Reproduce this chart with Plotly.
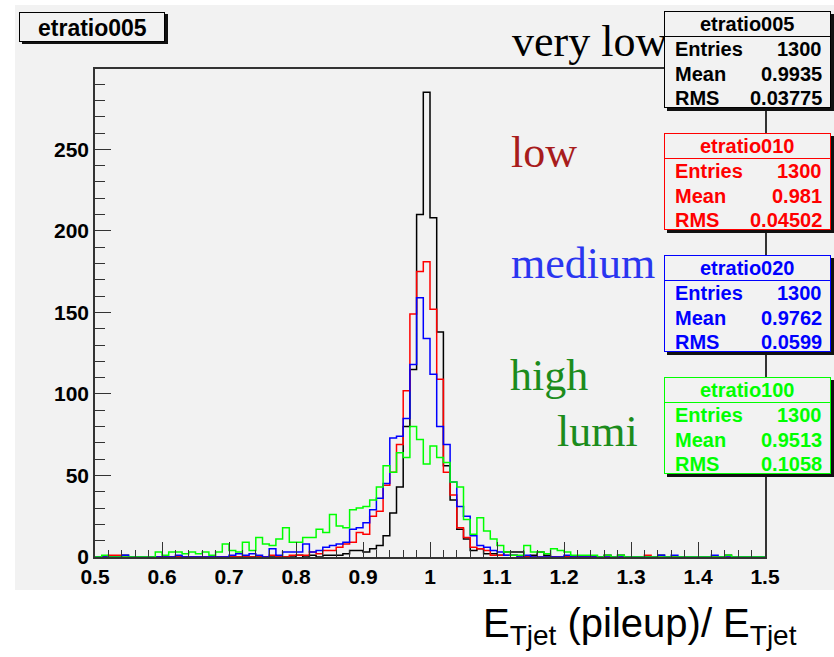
import numpy as np
import plotly.graph_objects as go

# ---------------- data ----------------
bin_low, bin_high, n_bins = 0.5, 1.5, 100

counts_005 = [
    0, 0, 0, 0, 1, 0, 0, 0, 0, 0,
    0, 0, 0, 0, 0, 0, 0, 0, 0, 0,
    0, 0, 0, 0, 0, 0, 0, 0, 0, 0,
    1, 0, 1, 0, 1, 1, 1, 2, 4, 4,
    3, 5, 7, 13, 27, 43, 80, 115, 210, 285,
    208, 138, 56, 35, 17, 11, 4, 5, 2, 2,
    1, 3, 3, 3, 0, 1, 3, 1, 0, 0,
    0, 0, 0, 0, 0, 0, 1, 0, 1, 0,
    0, 0, 0, 0, 1, 0, 0, 0, 0, 0,
    0, 0, 0, 0, 1, 0, 0, 0, 0, 0,
]
counts_010 = [
    0, 0, 1, 1, 0, 0, 0, 0, 0, 0,
    0, 0, 0, 0, 0, 0, 0, 0, 0, 0,
    0, 0, 0, 0, 0, 0, 1, 0, 0, 1,
    1, 1, 3, 2, 4, 4, 6, 8, 9, 15,
    14, 25, 28, 44, 52, 69, 102, 149, 175, 181,
    152, 109, 52, 38, 18, 12, 6, 5, 4, 1,
    1, 1, 1, 0, 0, 0, 0, 0, 0, 0,
    0, 0, 0, 0, 0, 0, 0, 0, 0, 0,
    0, 0, 1, 0, 0, 0, 0, 0, 0, 0,
    0, 0, 0, 0, 0, 0, 0, 0, 0, 0,
]
counts_020 = [
    0, 0, 0, 0, 1, 0, 0, 0, 0, 0,
    0, 0, 1, 0, 0, 0, 0, 0, 0, 0,
    1, 2, 1, 2, 1, 0, 5, 1, 3, 3,
    3, 8, 3, 4, 6, 7, 8, 9, 17, 18,
    21, 29, 36, 45, 73, 74, 85, 118, 159, 134,
    112, 80, 69, 46, 31, 25, 13, 7, 6, 4,
    3, 1, 1, 0, 1, 0, 0, 0, 0, 0,
    1, 0, 0, 0, 0, 0, 0, 0, 0, 0,
    0, 0, 0, 0, 1, 0, 1, 0, 0, 0,
    0, 0, 1, 0, 0, 0, 0, 0, 0, 0,
]
counts_100 = [
    0, 1, 0, 0, 0, 0, 0, 0, 0, 3,
    1, 3, 3, 2, 3, 2, 3, 1, 3, 8,
    4, 3, 9, 4, 12, 8, 7, 11, 18, 9,
    9, 12, 12, 17, 15, 26, 19, 18, 29, 30,
    31, 35, 43, 56, 52, 64, 61, 80, 72, 57,
    68, 61, 58, 46, 43, 23, 14, 24, 16, 11,
    7, 3, 1, 1, 7, 3, 3, 2, 5, 4,
    3, 1, 1, 1, 1, 0, 1, 0, 1, 0,
    0, 0, 0, 0, 0, 0, 0, 0, 0, 0,
    0, 0, 0, 0, 1, 0, 0, 0, 0, 0,
]

hist_names = ["etratio005", "etratio010", "etratio020", "etratio100"]
hist_entries = ["1300", "1300", "1300", "1300"]
hist_means = ["0.9935", "0.981", "0.9762", "0.9513"]
hist_rms = ["0.03775", "0.04502", "0.0599", "0.1058"]
hist_colors = ["#000000", "#ff0000", "#0000ff", "#00ff00"]

lumi_labels = ["very low", "low", "medium", "high", "lumi"]
lumi_colors = ["#000000", "#a81c1c", "#2a35f0", "#1c8c1c", "#1c8c1c"]

x_title = "E<sub>Tjet</sub> (pileup)/ E<sub>Tjet</sub>"

# ---------------- geometry (pixels) ----------------
W, H = 834, 657
L, R, T, B = 95, 765, 69, 557
BG = "#f2f2f2"
SANS = "Liberation Sans, Arial, sans-serif"
SERIF = "Liberation Serif, Times New Roman, serif"


def px(x):
    return (x - L) / (R - L)


def py(y):
    return (B - y) / (B - T)


fig = go.Figure()

edges = np.linspace(bin_low, bin_high, n_bins + 1)
all_counts = [counts_005, counts_010, counts_020, counts_100]
for counts, col, name in zip(all_counts, hist_colors, hist_names):
    yvals = list(counts) + [counts[-1]]
    fig.add_trace(go.Scatter(
        x=edges, y=yvals, mode="lines", name=name,
        line=dict(color=col, width=1.5, shape="hv"),
        hoverinfo="skip", showlegend=False,
    ))

ymax = max(counts_005) * 1.05

annotations = []


def text_ann(x, y, text, size, color, xanchor="left", family=SANS,
             weight="bold", yanchor="middle"):
    annotations.append(dict(
        x=px(x), y=py(y), xref="paper", yref="paper", text=text,
        showarrow=False, xanchor=xanchor, yanchor=yanchor,
        font=dict(family=family, size=size, color=color, weight=weight),
    ))


def rect_ann(x0, y0, x1, y1, fill, border=None, bw=1):
    if border is None:
        bw_ = 0
        border = fill
    else:
        bw_ = bw
    annotations.append(dict(
        x=px(x0), y=py(y0), xref="paper", yref="paper", text=" ",
        showarrow=False, xanchor="left", yanchor="top",
        width=max(1, (x1 - x0) - 2 * bw_), height=max(1, (y1 - y0) - 2 * bw_),
        bgcolor=fill, bordercolor=border, borderwidth=bw_, borderpad=0,
        font=dict(size=10, color=fill),
    ))


# lumi labels (serif), drawn first so that the stat boxes cover them
label_pos = [(510, 41), (509, 152), (509, 263), (508, 375), (555, 431)]
for lab, col, (lx, ly) in zip(lumi_labels, lumi_colors, label_pos):
    text_ann(lx, ly, lab, 44, col, family=SERIF, weight="normal")

# stat boxes
box_tops = [11, 133, 255, 377]
box_x0, box_x1 = 664, 831
box_h = 97
for name, ent, mean, rms, col, top in zip(hist_names, hist_entries, hist_means,
                                          hist_rms, hist_colors, box_tops):
    bot = top + box_h
    rect_ann(box_x0 + 3, top + 3, box_x1 + 3, bot + 3, "#111111")
    rect_ann(box_x0, top, box_x1, bot, BG, border=col)
    rect_ann(box_x0, top + 25, box_x1, top + 26, col)
    text_ann((box_x0 + box_x1) / 2, top + 13, name, 20, col, xanchor="center")
    rows = [("Entries", ent), ("Mean", mean), ("RMS", rms)]
    for k, (lab, val) in enumerate(rows):
        yy = top + 38 + k * 24.5
        text_ann(box_x0 + 9, yy, lab, 20, col)
        text_ann(box_x1 - 7, yy, val, 20, col, xanchor="right")

# title box
rect_ann(22, 14, 168, 44, "#111111")
rect_ann(19, 12, 165, 42, BG, border="#000000")
text_ann(92, 28, hist_names[0], 23, "#000000", xanchor="center")

# x-axis title
annotations.append(dict(
    x=px(640), y=py(626), xref="paper", yref="paper", text=x_title,
    showarrow=False, xanchor="center", yanchor="middle",
    font=dict(family=SANS, size=40, color="#000000"),
))

axis_common = dict(
    showgrid=False, zeroline=False, showline=True, mirror=True,
    linecolor="#333333", linewidth=1.5, ticks="inside",
    tickcolor="#333333", tickwidth=1.2,
    tickfont=dict(family=SANS, size=21, color="#000000", weight="bold"),
)

fig.update_layout(
    width=W, height=H,
    margin=dict(l=L, r=W - R, t=T, b=H - B, pad=0),
    paper_bgcolor="#ffffff", plot_bgcolor=BG,
    showlegend=False, hovermode=False,
    xaxis=dict(
        range=[bin_low, bin_high], dtick=0.1, tick0=0.5, ticklen=15,
        minor=dict(dtick=0.02, ticklen=7, ticks="inside", tickcolor="#333333",
                   tickwidth=1.2, showgrid=False),
        **axis_common,
    ),
    yaxis=dict(
        range=[0, ymax], dtick=50, ticklen=16,
        minor=dict(dtick=10, ticklen=10, ticks="inside", tickcolor="#333333",
                   tickwidth=1.2, showgrid=False),
        **axis_common,
    ),
    shapes=[dict(
        type="rect", xref="paper", yref="paper",
        x0=px(15), x1=px(W + 5), y0=py(590), y1=py(5),
        fillcolor=BG, line=dict(width=0), layer="below",
    )],
    annotations=annotations,
)

fig.write_html("out.html")
